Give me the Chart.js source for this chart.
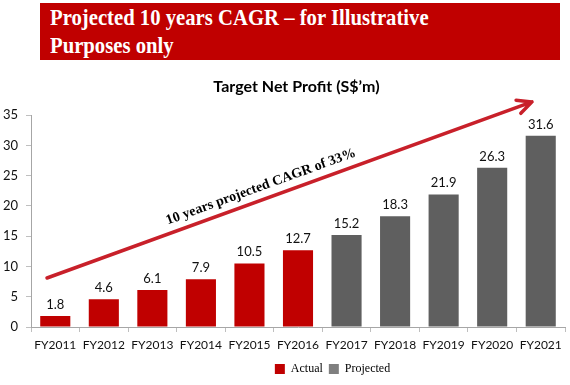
<!DOCTYPE html>
<html>
<head>
<meta charset="utf-8">
<script src="https://cdn.jsdelivr.net/npm/chart.js@4/dist/chart.umd.min.js"></script>
<style>
  html, body { margin: 0; padding: 0; background: #fff; }
  body { width: 570px; height: 385px; position: relative; overflow: hidden; }
  #banner {
    position: absolute; left: 40px; top: 3px; width: 520px; height: 57px;
    background: #C00000; color: #fff; box-sizing: border-box; padding: 1px 0 0 10px;
  }
  #banner span {
    display: block; transform: scaleX(0.9); transform-origin: left top;
    font-family: "Liberation Serif", serif; font-weight: bold; font-size: 23px;
    line-height: 28px; white-space: nowrap;
  }
  #wrap { position: absolute; left: 0; top: 0; width: 570px; height: 385px; }
</style>
</head>
<body>
<div id="wrap"><canvas id="c" width="570" height="385"></canvas></div>
<div id="banner"><span>Projected 10 years CAGR – for Illustrative<br>Purposes only</span></div>
<script>
const categories = ["FY2011","FY2012","FY2013","FY2014","FY2015","FY2016","FY2017","FY2018","FY2019","FY2020","FY2021"];
const actualValues = [1.8, 4.6, 6.1, 7.9, 10.5, 12.7, null, null, null, null, null];
const projectedValues = [null, null, null, null, null, null, 15.2, 18.3, 21.9, 26.3, 31.6];
const yTickValues = [0, 5, 10, 15, 20, 25, 30, 35];
const chartTitle = "Target Net Profit (S$\u2019m)";
const arrowLabel = "10 years projected CAGR of 33%";
// arrow annotation endpoints in data units: [category index, value]
const arrowStart = [-0.17, 8.1];
const arrowEnd = [9.82, 37.2];

const RED = "#C00000";
const GREY = "#5F5F5F";

const valueLabels = {
  id: "valueLabels",
  afterDatasetsDraw(chart) {
    const ctx = chart.ctx;
    ctx.save();
    ctx.font = "13px Lato";
    ctx.fillStyle = "#111";
    ctx.textAlign = "center";
    ctx.textBaseline = "alphabetic";
    chart.data.datasets.forEach((ds, di) => {
      const meta = chart.getDatasetMeta(di);
      meta.data.forEach((bar, i) => {
        const v = ds.data[i];
        if (v === null || v === undefined) return;
        ctx.fillText(v.toFixed(1), bar.x, bar.y - 7);
      });
    });
    ctx.restore();
  }
};

const cagrArrow = {
  id: "cagrArrow",
  afterDatasetsDraw(chart) {
    const xs = chart.scales.x, ys = chart.scales.y, ctx = chart.ctx;
    const x1 = xs.getPixelForValue(arrowStart[0]), y1 = ys.getPixelForValue(arrowStart[1]);
    const x2 = xs.getPixelForValue(arrowEnd[0]), y2 = ys.getPixelForValue(arrowEnd[1]);
    const ang = Math.atan2(y2 - y1, x2 - x1);
    ctx.save();
    ctx.strokeStyle = "#C8202A";
    ctx.lineWidth = 3.5;
    ctx.lineCap = "round";
    ctx.lineJoin = "round";
    ctx.beginPath();
    ctx.moveTo(x1, y1);
    ctx.lineTo(x2, y2);
    const hl = 16, ha = 0.45;
    ctx.moveTo(x2 - hl * Math.cos(ang - ha), y2 - hl * Math.sin(ang - ha));
    ctx.lineTo(x2, y2);
    ctx.lineTo(x2 - hl * Math.cos(ang + ha), y2 - hl * Math.sin(ang + ha));
    ctx.stroke();
    const t = 0.45;
    const mx = x1 + (x2 - x1) * t, my = y1 + (y2 - y1) * t;
    const off = 9;
    const px = mx + off * Math.sin(ang), py = my - off * Math.cos(ang);
    ctx.translate(px, py);
    ctx.rotate(ang);
    ctx.font = "bold 14px 'Liberation Serif'";
    ctx.fillStyle = "#000";
    ctx.textAlign = "center";
    ctx.textBaseline = "alphabetic";
    ctx.fillText(arrowLabel, 0, 0);
    ctx.restore();
  }
};

const shiftBoxes = {
  id: "shiftBoxes",
  afterLayout(chart) {
    const l = chart.legend;
    if (l) { l.left += 50; l.right += 50; }
    const t = chart.titleBlock;
    if (t) { t.left += 14; t.right += 14; }
  }
};

new Chart(document.getElementById("c"), {
  type: "bar",
  data: {
    labels: categories,
    datasets: [
      { label: "Actual", data: actualValues, backgroundColor: RED, grouped: false,
        barPercentage: 0.62, categoryPercentage: 1.0 },
      { label: "Projected", data: projectedValues, backgroundColor: GREY, grouped: false,
        barPercentage: 0.62, categoryPercentage: 1.0 }
    ]
  },
  options: {
    responsive: false,
    animation: false,
    layout: { padding: { top: 77, right: 5, bottom: 0, left: 0 } },
    plugins: {
      title: {
        display: true, text: chartTitle, color: "#000",
        font: { family: "Lato", weight: "bold", size: 16 },
        padding: { top: 0, bottom: 19 }
      },
      legend: {
        display: true, position: "bottom",
        labels: {
          boxWidth: 10, boxHeight: 10, padding: 6, color: "#111",
          font: { family: "Liberation Serif", size: 12 },
          generateLabels(chart) {
            return [
              { text: "Actual", fillStyle: RED, strokeStyle: RED, lineWidth: 0, datasetIndex: 0 },
              { text: "Projected", fillStyle: "#7F7F7F", strokeStyle: "#7F7F7F", lineWidth: 0, datasetIndex: 1 }
            ];
          }
        }
      },
      tooltip: { enabled: false }
    },
    scales: {
      x: {
        grid: { display: true, drawOnChartArea: false, drawTicks: true, tickLength: 5, color: "#BFBFBF", offset: true },
        border: { color: "#A6A6A6" },
        ticks: { color: "#111", font: { family: "Lato", size: 12 }, padding: 6, maxRotation: 0, autoSkip: false },
        afterFit(s) { s.height = 30; }
      },
      y: {
        min: 0, max: 35,
        grid: { display: true, drawOnChartArea: false, drawTicks: true, tickLength: 5, color: "#BFBFBF" },
        border: { color: "#A6A6A6" },
        afterBuildTicks(s) { s.ticks = yTickValues.map(v => ({ value: v })); },
        ticks: { color: "#111", font: { family: "Lato", size: 13 }, padding: 8 },
        afterFit(s) { s.width = 31; }
      }
    }
  },
  plugins: [valueLabels, cagrArrow, shiftBoxes]
});
</script>
</body>
</html>
